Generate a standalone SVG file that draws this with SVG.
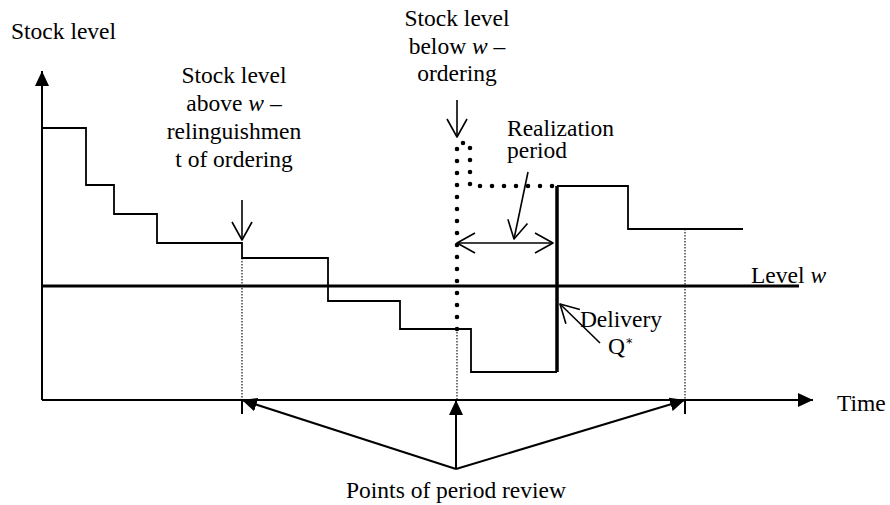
<svg xmlns="http://www.w3.org/2000/svg" width="890" height="505" viewBox="0 0 890 505" font-family="'Liberation Serif', 'DejaVu Serif', serif">
  <style>
    text { font-family: "Liberation Serif", "DejaVu Serif", serif; font-size: 23.5px; fill: #000; }
    .c { text-anchor: middle; }
    .it { font-style: italic; }
    .sup { font-family: "DejaVu Sans", "Liberation Sans", sans-serif; font-size: 13px; }
    .axis { stroke: #000; stroke-width: 2; fill: none; }
    .step { stroke: #000; stroke-width: 1.8; fill: none; }
    .thick { stroke: #000; stroke-width: 3.5; fill: none; }
    .review { stroke: #000; stroke-width: 1.1; stroke-dasharray: 1.5 1.5; fill: none; }
    .order { stroke: #000; stroke-width: 4.6; stroke-dasharray: 0 12; stroke-linecap: round; fill: none; }
    .ptr { stroke: #000; stroke-width: 1.6; fill: none; }
    .fill-ptr { stroke: #000; stroke-width: 2; fill: none; marker-end: url(#solid); }
    .open-end { marker-end: url(#open); }
  </style>
  <defs>
    <marker id="solid" viewBox="0 0 15 14" refX="15" refY="7" markerWidth="15" markerHeight="14" markerUnits="userSpaceOnUse" orient="auto">
      <path d="M0,0 L15,7 L0,14 z" fill="#000"/>
    </marker>
    <marker id="open" viewBox="-2 -12 22 24" refX="18" refY="0" markerWidth="22" markerHeight="24" markerUnits="userSpaceOnUse" orient="auto-start-reverse">
      <path d="M0,-10 L18,0 L0,10" fill="none" stroke="#000" stroke-width="1.6" stroke-linejoin="round"/>
    </marker>
  </defs>

  <!-- axes -->
  <g id="axes">
    <line class="fill-ptr" x1="42" y1="400" x2="42" y2="71"/>
    <line class="fill-ptr" x1="42" y1="400" x2="813" y2="400"/>
    <line class="axis" x1="242" y1="400" x2="242" y2="414"/>
    <line class="axis" x1="685" y1="400" x2="685" y2="414"/>
    <text x="11" y="39">Stock level</text>
    <text x="837" y="411">Time</text>
  </g>

  <!-- reorder level w -->
  <g id="level-w">
    <line x1="42" y1="286" x2="799" y2="286" stroke="#000" stroke-width="3.2"/>
    <text x="751" y="283">Level <tspan class="it">w</tspan></text>
  </g>

  <!-- stock level over time -->
  <g id="stock-curve">
    <path class="step" d="M42,128 H86 V185 H114 V214 H157 V243 H242 V258 H328 V301 H400 V329 H471 V372 H557"/>
    <path class="step" d="M557,186 H628 V229 H743"/>
    <line class="thick" x1="557" y1="372" x2="557" y2="186"/>
  </g>

  <!-- review instants -->
  <g id="review-lines">
    <line class="review" x1="242" y1="258" x2="242" y2="400"/>
    <line class="review" x1="457" y1="329" x2="457" y2="400"/>
    <line class="review" x1="685" y1="229" x2="685" y2="400"/>
  </g>

  <!-- order placed, awaiting delivery -->
  <g id="order-path">
    <path class="order" d="M457,329 V143 H470 V186 H557"/>
  </g>

  <g id="label-above">
    <text class="c" x="234" y="83">Stock level</text>
    <text class="c" x="234" y="111">above <tspan class="it">w</tspan> –</text>
    <text class="c" x="234" y="139">relinguishmen</text>
    <text class="c" x="234" y="167">t of ordering</text>
  </g>

  <g id="label-below">
    <text class="c" x="457" y="26">Stock level</text>
    <text class="c" x="457" y="54">below <tspan class="it">w</tspan> –</text>
    <text class="c" x="457" y="81">ordering</text>
  </g>

  <g id="label-realization">
    <text x="507" y="136">Realization</text>
    <text x="507" y="158">period</text>
  </g>

  <g id="label-delivery">
    <text class="c" x="621" y="327">Delivery</text>
    <text x="608" y="354">Q</text>
    <text class="sup" x="626" y="347">*</text>
  </g>

  <g id="label-review">
    <text class="c" x="456" y="498">Points of period review</text>
  </g>

  <!-- connectors -->
  <g id="connectors">
    <line class="ptr open-end" x1="242" y1="200" x2="242" y2="240"/>
    <line class="ptr open-end" x1="457" y1="100" x2="457" y2="137"/>
    <line class="ptr open-end" x1="528" y1="172" x2="514" y2="239"/>
    <line class="ptr open-end" x1="600" y1="343" x2="560" y2="304"/>
    <line class="ptr open-end" x1="457" y1="243" x2="553" y2="243" marker-start="url(#open)"/>
    <line class="fill-ptr" x1="456" y1="469" x2="242" y2="400"/>
    <line class="fill-ptr" x1="456" y1="469" x2="456" y2="400"/>
    <line class="fill-ptr" x1="456" y1="469" x2="685" y2="400"/>
  </g>
</svg>
